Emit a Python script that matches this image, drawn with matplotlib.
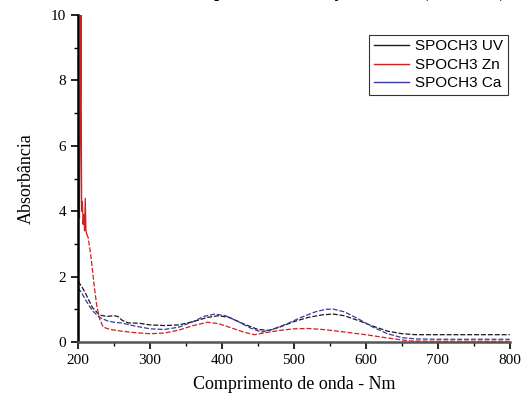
import numpy as np
import matplotlib.pyplot as plt
from matplotlib.lines import Line2D

# SPOCH3 UV
uv_x = [200, 205, 210, 220, 230, 240, 250, 255, 262, 270, 285, 300, 320, 340, 360, 380, 395, 410, 430, 450, 465, 480, 500, 520, 540, 555, 570, 590, 610, 630, 650, 670, 700, 750, 800]
uv_y = [1.85, 1.7, 1.5, 1.05, 0.82, 0.78, 0.8, 0.78, 0.65, 0.58, 0.57, 0.52, 0.5, 0.52, 0.62, 0.75, 0.8, 0.75, 0.55, 0.38, 0.35, 0.45, 0.62, 0.75, 0.83, 0.85, 0.8, 0.65, 0.48, 0.33, 0.25, 0.22, 0.22, 0.22, 0.22]

# SPOCH3 Ca
ca_x = [200, 205, 210, 220, 230, 240, 250, 260, 280, 300, 320, 340, 360, 375, 390, 405, 420, 440, 455, 470, 490, 510, 530, 545, 555, 570, 590, 610, 630, 650, 670, 700, 750, 800]
ca_y = [1.65, 1.5, 1.3, 0.95, 0.75, 0.65, 0.6, 0.58, 0.48, 0.4, 0.38, 0.45, 0.62, 0.78, 0.85, 0.8, 0.65, 0.42, 0.3, 0.38, 0.55, 0.75, 0.92, 1.0, 1.0, 0.92, 0.7, 0.45, 0.25, 0.13, 0.09, 0.08, 0.08, 0.08]

# SPOCH3 Zn
zn_x = [200, 201, 202, 203, 204, 205, 206, 207, 208, 209, 210, 211, 212, 214, 218, 222, 226, 230, 235, 245, 260, 280, 300, 320, 340, 360, 380, 395, 410, 430, 445, 460, 480, 500, 520, 540, 560, 600, 630, 660, 690, 720, 760, 800]
zn_y = [3.5, 4.2, 3.8, 6.4, 10.0, 4.0, 4.3, 3.6, 3.9, 3.4, 4.4, 3.4, 3.3, 3.2, 2.6, 1.8, 1.1, 0.7, 0.45, 0.38, 0.33, 0.28, 0.25, 0.27, 0.36, 0.5, 0.6, 0.56, 0.45, 0.3, 0.22, 0.28, 0.35, 0.4, 0.41, 0.38, 0.33, 0.22, 0.12, 0.03, 0.02, 0.02, 0.02, 0.02]

labels = ['SPOCH3 UV', 'SPOCH3 Zn', 'SPOCH3 Ca']
colors = ['#1a1a1a', '#cc2222', '#3a3aa0']
serif = 'Liberation Serif'

fig = plt.figure(figsize=(5.31, 3.98), dpi=100)
ax = fig.add_axes([0.147, 0.141, 0.813, 0.821])

dash = (0, (4, 1.5))
ax.plot(uv_x, uv_y, color=colors[0], lw=0.9, ls=dash)
ax.plot(ca_x, ca_y, color=colors[2], lw=0.9, ls=dash)
n = 13
ax.plot(zn_x[:n], zn_y[:n], color=colors[1], lw=0.9)
ax.plot(zn_x[n - 1:], zn_y[n - 1:], color=colors[1], lw=0.9, ls=dash)

ax.set_xlim(200, 800)
ax.set_ylim(0, 10)
ax.set_xticks(np.arange(200, 801, 100))
ax.set_xticks(np.arange(250, 800, 100), minor=True)
ax.set_yticks(np.arange(0, 11, 2))
ax.set_yticks(np.arange(1, 10, 2), minor=True)
for s in ['top', 'right']:
    ax.spines[s].set_visible(False)
ax.spines['left'].set_linewidth(1.8)
ax.spines['bottom'].set_linewidth(1.8)
ax.spines['bottom'].set_color('#555555')
ax.tick_params(which='major', direction='out', length=5, width=1.2, labelsize=11)
ax.tick_params(which='minor', direction='out', length=3, width=1.0)
for t in ax.get_xticklabels() + ax.get_yticklabels():
    t.set_fontfamily(serif)

ax.set_xlabel('Comprimento de onda - Nm', fontfamily=serif, fontsize=13, labelpad=7)
ax.set_ylabel('Absorbância', fontfamily=serif, fontsize=13, labelpad=12)

handles = [Line2D([], [], color=colors[0], lw=1),
           Line2D([], [], color=colors[1], lw=1),
           Line2D([], [], color=colors[2], lw=1)]
leg = ax.legend(handles, labels, loc='upper right', bbox_to_anchor=(0.995, 0.94),
                prop={'family': 'Liberation Sans', 'size': 11}, fancybox=False,
                frameon=True, handlelength=2.3, handletextpad=0.4, borderpad=0.3,
                labelspacing=0.3, borderaxespad=0)
leg.get_frame().set_edgecolor('black')
leg.get_frame().set_linewidth(0.8)

# title mostly cut off at the top edge in the original
fig.text(0.66, 1.007, 'Espectro de absorção UV-Vis (SPOCH3)', fontfamily=serif,
         fontsize=13, fontweight='bold', ha='center', va='baseline')

fig.savefig('out.png', dpi=100)
